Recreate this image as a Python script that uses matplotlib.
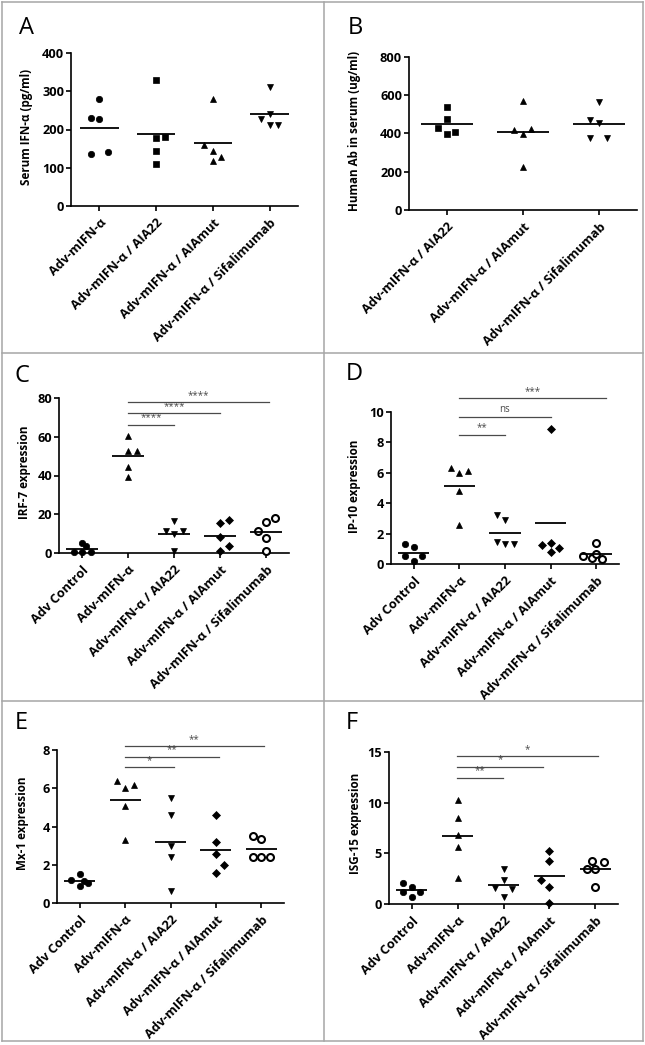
import numpy as np
import matplotlib
matplotlib.use("Agg")
import matplotlib.pyplot as plt
from matplotlib.lines import Line2D

plt.rcParams['font.family'] = ['Open Sans', 'DejaVu Sans']

# ---------------- data ----------------
labels_a = ['Adv-mIFN-α', 'Adv-mIFN-α / AIA22', 'Adv-mIFN-α / AIAmut', 'Adv-mIFN-α / Sifalimumab']
labels_b = ['Adv-mIFN-α / AIA22', 'Adv-mIFN-α / AIAmut', 'Adv-mIFN-α / Sifalimumab']
labels_5 = ['Adv Control', 'Adv-mIFN-α', 'Adv-mIFN-α / AIA22', 'Adv-mIFN-α / AIAmut',
            'Adv-mIFN-α / Sifalimumab']

# Panel A: Serum IFN-alpha (pg/ml)
a_mifn = [279, 229, 228, 136, 142]
a_aia22 = [330, 177, 181, 143, 110]
a_aiamut = [280, 159, 144, 117, 129]
a_sifa = [312, 240, 227, 211, 211]

# Panel B: Human Ab in serum (ug/ml)
b_aia22 = [536, 477, 428, 395, 407]
b_aiamut = [568, 416, 398, 426, 227]
b_sifa = [564, 472, 454, 376, 376]

# Panel C: IRF-7 expression
c_ctrl = [5.2, 3.8, 0.5, 0.4, 0.6]
c_mifn = [60.4, 52.5, 52.8, 44.6, 39.2]
c_aia22 = [16.4, 11.2, 10.0, 11.2, 0.9]
c_aiamut = [15.5, 16.8, 8.3, 3.5, 1.0]
c_sifa = [15.9, 18.0, 11.1, 7.6, 1.0]

# Panel D: IP-10 expression
d_ctrl = [1.32, 1.14, 0.53, 0.22, 0.53]
d_mifn = [6.3, 5.96, 6.14, 4.82, 2.54]
d_aia22 = [3.25, 2.87, 1.47, 1.32, 1.32]
d_aiamut = [8.9, 1.23, 1.4, 1.03, 0.77]
d_sifa = [1.36, 0.55, 0.4, 0.65, 0.35]

# Panel E: Mx-1 expression
e_ctrl = [1.5, 1.2, 1.15, 0.9, 1.06]
e_mifn = [6.36, 6.0, 6.17, 5.05, 3.28]
e_aia22 = [5.47, 4.61, 3.0, 2.38, 0.61]
e_aiamut = [4.61, 3.2, 2.55, 1.97, 1.55]
e_sifa = [3.48, 3.34, 2.43, 2.43, 2.43]

# Panel F: ISG-15 expression
f_ctrl = [2.1, 1.64, 1.15, 0.72, 1.15]
f_mifn = [10.3, 8.47, 6.8, 5.58, 2.59]
f_aia22 = [3.43, 2.37, 1.6, 1.44, 0.66]
f_aiamut = [5.22, 4.23, 2.36, 1.67, 0.1]
f_sifa = [4.24, 4.18, 3.45, 3.45, 1.71]

# significance comparisons: (from group, to group, bar height, label)
sig_c = [(2, 3, 66.3, '****'), (2, 4, 72.2, '****'), (2, 5.06, 77.9, '****')]
sig_d = [(2, 3, 8.49, '**'), (2, 4, 9.7, 'ns'), (2, 5.22, 10.9, '***')]
sig_e = [(2, 3.07, 7.09, '*'), (2, 4.06, 7.65, '**'), (2, 5.05, 8.19, '**')]
sig_f = [(1.98, 2.98, 12.47, '**'), (1.98, 3.86, 13.52, '*'), (1.98, 5.06, 14.57, '*')]

yticks_a = [0, 100, 200, 300, 400]
yticks_b = [0, 200, 400, 600, 800]
yticks_c = [0, 20, 40, 60, 80]
yticks_d = [0, 2, 4, 6, 8, 10]
yticks_e = [0, 2, 4, 6, 8]
yticks_f = [0, 5, 10, 15]

# ---------------- layout / style (jitter steps, in marker widths) ----------------
offs_a = [[0, -1, 0, -1, 1], [0, 0, 1, 0, 0], [0, -1, 0, 0, 1], [0, 0, -1, 0, 1]]
offs_b = [[0, 0, -1, 0, 1], [0, -1, 0, 1, 0], [0, -1, 0, -1, 1]]
offs_c = [[0, 0.5, -1, 0, 1], [0, 0, 1, 0, 0], [0, -1, 0, 1, 0], [0, 1, 0, 1, 0], [0, 1, -1, 0, 0]]
offs_d = [[-1, 0, -1, 0, 1], [-1, 0, 1, 0, 0], [-1, 0, -1, 0, 1], [0, -1, 0, 1, 0], [0, -1.5, -0.5, 0, 0.7]]
offs_e = [[0, -1, 0.5, 0, 1], [-1, 0, 1, 0, 0], [0, 0, 0, 0, 0], [0, 0, 0, 1, 0], [-1, 0, -1, 0, 1]]
offs_f = [[-1, 0, -1, 0, 1], [0, 0, 0, 0, 0], [0, 0, -1, 1, 0], [0, 0, -1, 0, 0], [-0.4, 1, -1, 0, 0]]

W, H = 645, 1045
fig = plt.figure(figsize=(W / 100, H / 100), dpi=100)

GREY = '#a6a6a6'
# panel frames
for xx in (1.5, 323.5, 642.5):
    fig.add_artist(Line2D([xx / W, xx / W], [1 - 1.5 / H, 1 - 1040.5 / H], color=GREY, lw=1.1))
for yy in (1.5, 352.5, 700.5, 1040.5):
    fig.add_artist(Line2D([1.5 / W, 642.5 / W], [1 - yy / H, 1 - yy / H], color=GREY, lw=1.1))

STYLES = {
    'o': dict(marker='o', ms=4.6, mfc='black', mec='black', mew=0.5),
    's': dict(marker='s', ms=4.3, mfc='black', mec='black', mew=0.5),
    '^': dict(marker='^', ms=5.0, mfc='black', mec='black', mew=0.5),
    'v': dict(marker='v', ms=5.0, mfc='black', mec='black', mew=0.5),
    'D': dict(marker='D', ms=3.8, mfc='black', mec='black', mew=0.5),
    'O': dict(marker='o', ms=5.0, mfc='white', mec='black', mew=1.5),
}


def panel(box, letter, letter_xy, groups, markers, offs, labels, yticks, ylabel,
          ylab_xy, sigs=None):
    l, r, t, b = box
    ax = fig.add_axes([l / W, 1 - b / H, (r - l) / W, (b - t) / H])
    n = len(groups)
    ax.set_xlim(0.5, n + 0.5)
    ax.set_ylim(yticks[0], yticks[-1])
    px_per_unit = (r - l) / n
    step = 8.5 / px_per_unit
    for i, (vals, mk, off) in enumerate(zip(groups, markers, offs)):
        xc = i + 1
        xs = [xc + o * step for o in off]
        ax.plot(xs, vals, ls='none', clip_on=False, zorder=3, **STYLES[mk])
        m = np.mean(vals)
        ax.plot([xc - 0.34, xc + 0.34], [m, m], color='black', lw=1.3, zorder=4,
                clip_on=False, solid_capstyle='butt')
    for s in ('top', 'right'):
        ax.spines[s].set_visible(False)
    for s in ('left', 'bottom'):
        ax.spines[s].set_linewidth(1.2)
    ax.set_xticks(range(1, n + 1))
    ax.set_xticklabels(labels, rotation=45, ha='right', rotation_mode='anchor',
                       fontsize=9.2, fontweight='bold')
    ax.set_yticks(yticks)
    ax.set_yticklabels([str(v) for v in yticks], fontsize=9.2, fontweight='bold')
    ax.tick_params(axis='both', length=3.5, width=1.2, direction='out')
    ax.tick_params(axis='x', pad=4)
    ax.tick_params(axis='y', pad=1.5)
    ax.set_ylabel(ylabel, fontsize=8.4, fontweight='bold', va='center')
    ax.yaxis.set_label_coords(*ylab_xy)
    if sigs:
        for x0, x1, y, txt in sigs:
            ax.plot([x0, x1], [y, y], color='#4a4a4a', lw=0.9, clip_on=False)
            ax.annotate(txt, xy=((x0 + x1) / 2, y), xytext=(0, 1.0), textcoords='offset points',
                        ha='center', va='bottom', fontsize=7, color='#4a4a4a',
                        annotation_clip=False)
    fig.text(letter_xy[0] / W, 1 - letter_xy[1] / H, letter, fontsize=17,
             ha='left', va='baseline')
    return ax


panel((71, 298, 53, 206), 'A', (19, 34), [a_mifn, a_aia22, a_aiamut, a_sifa],
      ['o', 's', '^', 'v'], offs_a, labels_a, yticks_a, 'Serum IFN-α (pg/ml)', (-0.194, 0.52))
panel((409, 637, 57, 210), 'B', (348, 34), [b_aia22, b_aiamut, b_sifa],
      ['s', '^', 'v'], offs_b, labels_b, yticks_b, 'Human Ab in serum (ug/ml)', (-0.237, 0.52))
panel((59, 289, 398, 553), 'C', (15, 382), [c_ctrl, c_mifn, c_aia22, c_aiamut, c_sifa],
      ['o', '^', 'v', 'D', 'O'], offs_c, labels_5, yticks_c, 'IRF-7 expression',
      (-0.152, 0.52), sig_c)
panel((391, 619, 412, 564), 'D', (346, 380), [d_ctrl, d_mifn, d_aia22, d_aiamut, d_sifa],
      ['o', '^', 'v', 'D', 'O'], offs_d, labels_5, yticks_d, 'IP-10 expression',
      (-0.158, 0.51), sig_d)
panel((57, 284, 750, 903), 'E', (15, 729), [e_ctrl, e_mifn, e_aia22, e_aiamut, e_sifa],
      ['o', '^', 'v', 'D', 'O'], offs_e, labels_5, yticks_e, 'Mx-1 expression',
      (-0.15, 0.52), sig_e)
panel((389, 618, 752, 904), 'F', (346, 729), [f_ctrl, f_mifn, f_aia22, f_aiamut, f_sifa],
      ['o', '^', 'v', 'D', 'O'], offs_f, labels_5, yticks_f, 'ISG-15 expression',
      (-0.148, 0.53), sig_f)

fig.savefig('out.png', dpi=100, facecolor='white')
